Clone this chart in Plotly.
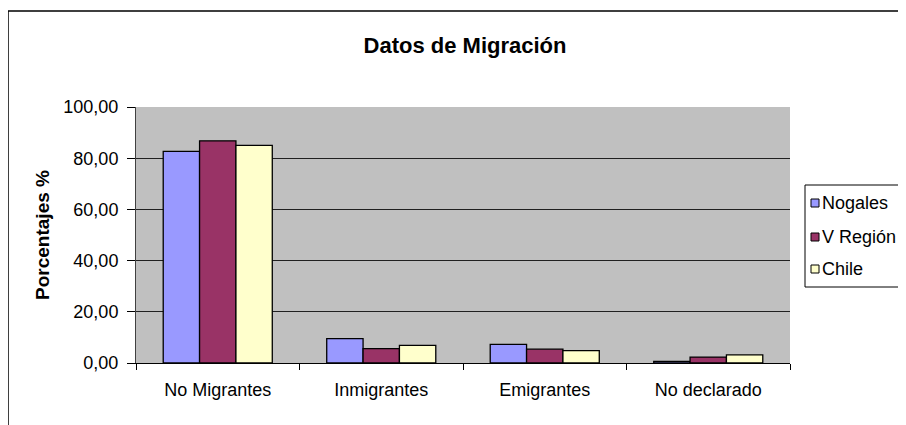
import plotly.graph_objects as go

categories = ["No Migrantes", "Inmigrantes", "Emigrantes", "No declarado"]
series_names = ["Nogales", "V Región", "Chile"]
nogales = [82.7, 9.5, 7.3, 0.6]
v_region = [86.8, 5.6, 5.4, 2.3]
chile = [85.0, 6.9, 4.8, 3.2]
colors = ["#9999FF", "#993366", "#FFFFCC"]
y_ticks = [0, 20, 40, 60, 80, 100]

FONT = "Liberation Sans, Arial, sans-serif"

# page body has an 8px margin; layout pixels = screen pixels - 8
PL, PR, PT, PB = 136, 790, 107, 363          # plot area on screen
W, H = 906, 425


def px_x(sx):
    return (sx - PL) / (PR - PL)


def px_y(sy):
    return (PB - sy) / (PB - PT)


fig = go.Figure()
for name, vals, col in zip(series_names, [nogales, v_region, chile], colors):
    fig.add_trace(go.Bar(
        x=categories, y=vals, name=name,
        marker=dict(color=col, line=dict(color="black", width=1.3)),
        showlegend=False,
    ))

fig.update_layout(
    width=W, height=H,
    margin=dict(l=PL - 8, r=W - (PR - 8), t=PT - 8, b=H - (PB - 8), autoexpand=False),
    paper_bgcolor="white",
    plot_bgcolor="#C0C0C0",
    separators=",.",
    barmode="group", bargap=0.333, bargroupgap=0,
    font=dict(family=FONT, size=18, color="black"),
    title=dict(text="<b>Datos de Migración</b>", xref="container", yref="container",
               x=(465 - 8) / W, xanchor="center",
               y=1 - (45 - 8) / H, yanchor="middle", font=dict(size=22, family=FONT)),
    showlegend=False,
)

fig.update_xaxes(
    type="category", tickson="boundaries", ticks="outside", ticklen=6,
    tickcolor="black", showline=True, linecolor="black", linewidth=1,
    showgrid=False, ticklabelstandoff=10, tickfont=dict(size=18),
)
fig.update_yaxes(
    range=[0, 100], tickvals=y_ticks, tickformat=".2f",
    ticks="outside", ticklen=8, tickcolor="black",
    showline=True, linecolor="#404040", linewidth=1,
    showgrid=True, gridcolor="#202020", gridwidth=1,
    zeroline=False, ticklabelstandoff=5, tickfont=dict(size=18),
    title=dict(text="<b>Porcentajes %</b>", font=dict(size=19), standoff=8),
)

# outer chart frame
fig.add_shape(type="rect", xref="paper", yref="paper",
              x0=px_x(8), x1=1.5, y0=-0.5, y1=px_y(11),
              line=dict(color="black", width=1.5), fillcolor="rgba(0,0,0,0)",
              layer="below")

# legend box (Excel style, runs off the right edge like the original)
fig.add_shape(type="rect", xref="paper", yref="paper",
              x0=px_x(805), x1=px_x(930), y0=px_y(287), y1=px_y(185),
              line=dict(color="black", width=1), fillcolor="white")
legend_rows = [203, 237, 269]
for name, col, cy in zip(series_names, colors, legend_rows):
    fig.add_shape(type="rect", xref="paper", yref="paper",
                  x0=px_x(811), x1=px_x(819), y0=px_y(cy + 4), y1=px_y(cy - 4),
                  line=dict(color="black", width=1), fillcolor=col)
    fig.add_annotation(text=name, xref="paper", yref="paper",
                       x=px_x(820), y=px_y(cy), xanchor="left", yanchor="middle",
                       showarrow=False, font=dict(size=18, family=FONT))

fig.write_html("out.html")
